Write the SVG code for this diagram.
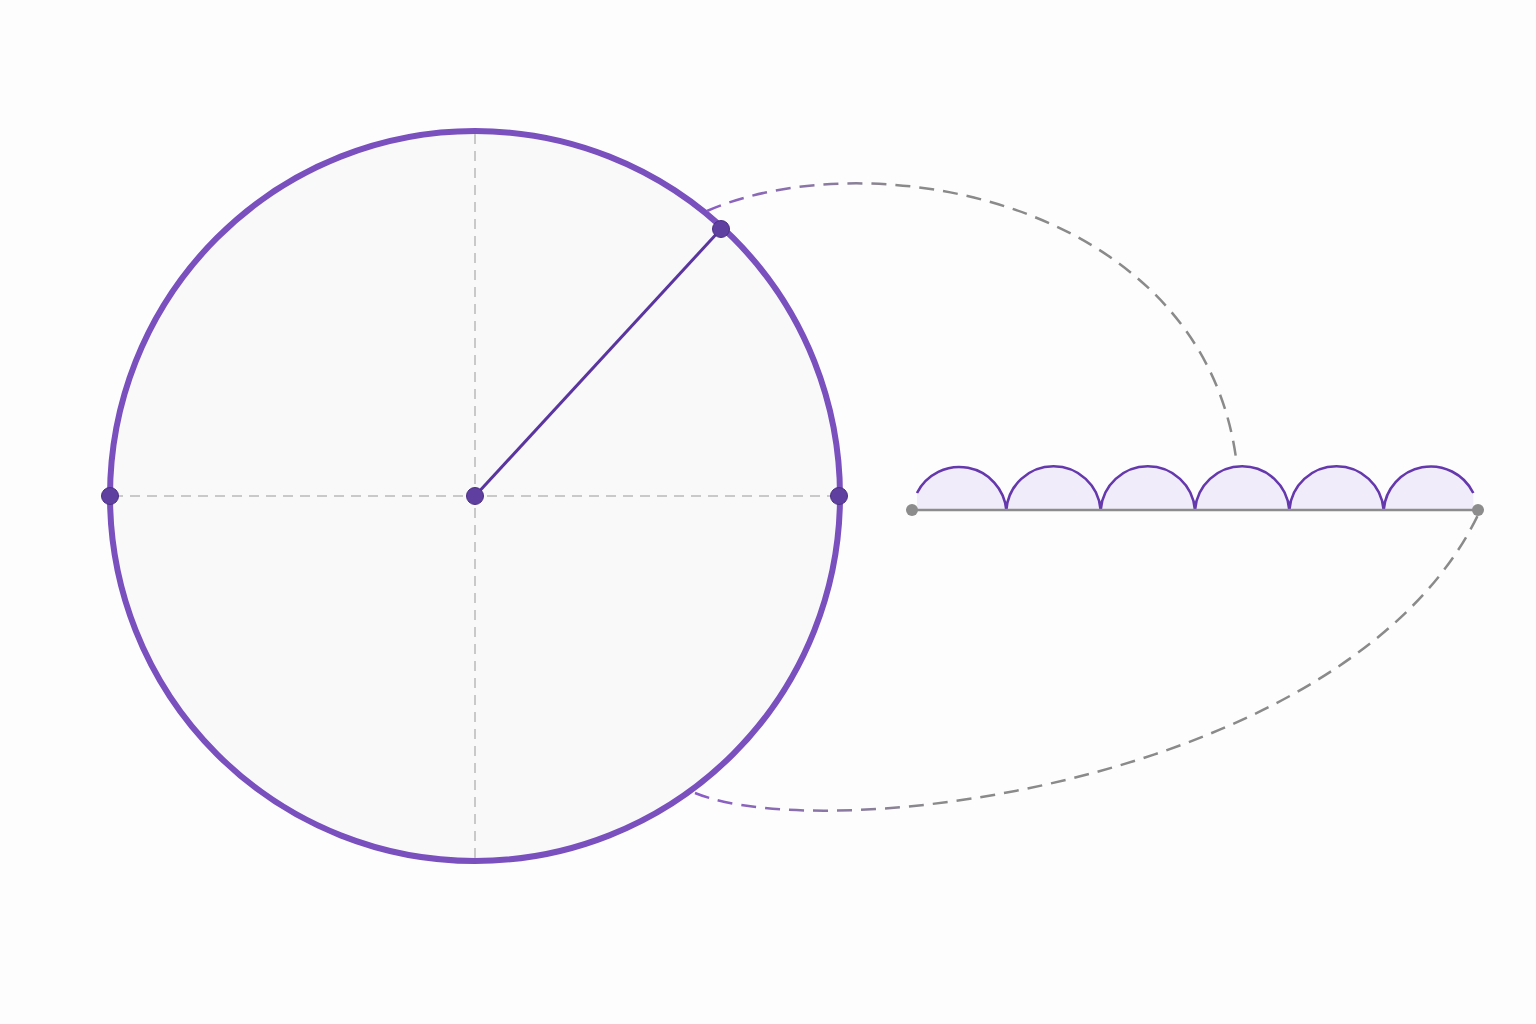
<svg xmlns="http://www.w3.org/2000/svg" width="1536" height="1024" viewBox="0 0 1536 1024">
<style>
.guide{stroke:#c9c9c9;stroke-width:2;stroke-dasharray:10 7;fill:none}
.dot{fill:#5f3f9f;stroke:#4b2f85;stroke-width:1}
.gdot{fill:#8c8c8c}
.arch{fill:#f1ecfa;stroke:none}
.archline{fill:none;stroke:#6538ad;stroke-width:2.6}
.link{fill:none;stroke-width:2.5;stroke-dasharray:15 9}
</style>
<defs>
<linearGradient id="gU" gradientUnits="userSpaceOnUse" x1="700" y1="0" x2="900" y2="0">
<stop offset="0" stop-color="#8a5cc8"/><stop offset="1" stop-color="#8a8a8a"/>
</linearGradient>
<linearGradient id="gL" gradientUnits="userSpaceOnUse" x1="700" y1="0" x2="930" y2="0">
<stop offset="0" stop-color="#8a5cc8"/><stop offset="1" stop-color="#8a8a8a"/>
</linearGradient>
</defs>
<rect width="1536" height="1024" fill="#fdfdfd"/>
<g id="circle">
<circle cx="475" cy="496" r="365" fill="#f9f9f9" stroke="#7a4fbe" stroke-width="6"/>
<line class="guide" x1="113" y1="496" x2="836" y2="496"/>
<line class="guide" x1="475" y1="134" x2="475" y2="858"/>
<line x1="475" y1="496" x2="721" y2="229" stroke="#5a35a0" stroke-width="3"/>
<circle class="dot" cx="110" cy="496" r="8.5"/>
<circle class="dot" cx="839" cy="496" r="8.5"/>
<circle class="dot" cx="475" cy="496" r="8.5"/>
<circle class="dot" cx="721" cy="229" r="8.5"/>
</g>
<g id="unrolled">
<path class="arch" d="M917,493 A47.3,47.3 0 0 1 1006.33,510 A47.3,47.3 0 0 1 1100.67,510 A47.3,47.3 0 0 1 1195,510 A47.3,47.3 0 0 1 1289.33,510 A47.3,47.3 0 0 1 1383.67,510 A47.3,47.3 0 0 1 1473.3,493 L1473.3,510 L917,510 Z"/>
<path class="archline" d="M917,493 A47.3,47.3 0 0 1 1006.33,510 A47.3,47.3 0 0 1 1100.67,510 A47.3,47.3 0 0 1 1195,510 A47.3,47.3 0 0 1 1289.33,510 A47.3,47.3 0 0 1 1383.67,510 A47.3,47.3 0 0 1 1473.3,493"/>
<line x1="912" y1="510" x2="1478" y2="510" stroke="#8c8c8c" stroke-width="2.5"/>
<circle class="gdot" cx="912" cy="510" r="6"/>
<circle class="gdot" cx="1478" cy="510" r="6"/>
</g>
<g id="connectors">
<path class="link" stroke="url(#gU)" d="M707,211 C870,140 1200,200 1236,458"/>
<path class="link" stroke="url(#gL)" d="M695,793 C830,848 1350,780 1478,515"/>
</g>
</svg>
